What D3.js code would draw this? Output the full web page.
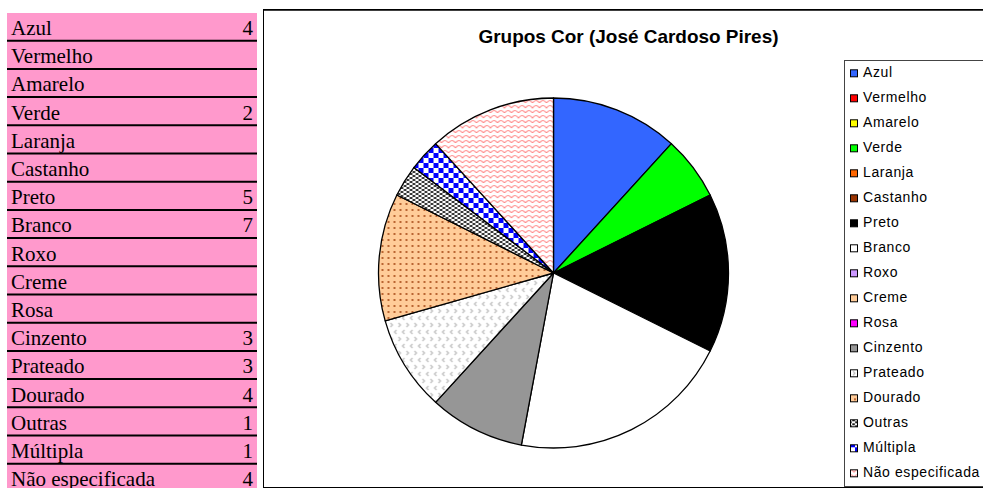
<!DOCTYPE html>
<html><head><meta charset="utf-8">
<script src="https://cdn.jsdelivr.net/npm/d3@7"></script>
<style>html,body{margin:0;padding:0;background:#fff;overflow:hidden} svg{display:block}</style>
</head><body>
<script>
const categories = ["Azul","Vermelho","Amarelo","Verde","Laranja","Castanho","Preto","Branco","Roxo","Creme","Rosa","Cinzento","Prateado","Dourado","Outras","Múltipla","Não especificada"];
const values = [4,null,null,2,null,null,5,7,null,null,null,3,3,4,1,1,4];
const fills = ["#3366ff","#ff0000","#ffff00","#00ff00","#ff6600","#993300","#000000","#ffffff","#cc99ff","#ffcc99","#ff00ff","#969696","url(#pPrat)","url(#pDour)","url(#pOutr)","url(#pMult)","url(#pNao)"];
const title = "Grupos Cor (José Cardoso Pires)";

const W = 983, H = 488;
const svg = d3.select("body").append("svg").attr("width", W).attr("height", H);
const defs = svg.append("defs");

// patterns
const pPrat = defs.append("pattern").attr("id","pPrat").attr("patternUnits","userSpaceOnUse").attr("width",8).attr("height",14);
pPrat.append("rect").attr("width",8).attr("height",14).attr("fill","#fff");
pPrat.append("path").attr("d","M3,1 L1,3 L3,5 M5,8 L7,10 L5,12").attr("fill","none").attr("stroke","#bdbdbd").attr("stroke-width",1.2);

const pDour = defs.append("pattern").attr("id","pDour").attr("patternUnits","userSpaceOnUse").attr("width",6).attr("height",6);
pDour.append("rect").attr("width",6).attr("height",6).attr("fill","#ffcc99");
pDour.append("circle").attr("cx",3).attr("cy",3).attr("r",0.9).attr("fill","#993300");

const pOutr = defs.append("pattern").attr("id","pOutr").attr("patternUnits","userSpaceOnUse").attr("width",6).attr("height",4);
pOutr.append("rect").attr("width",6).attr("height",4).attr("fill","#fff");
pOutr.append("ellipse").attr("cx",1.5).attr("cy",1).attr("rx",1.7).attr("ry",0.9).attr("fill","#111");
pOutr.append("ellipse").attr("cx",4.5).attr("cy",3).attr("rx",1.7).attr("ry",0.9).attr("fill","#111");

const pMult = defs.append("pattern").attr("id","pMult").attr("patternUnits","userSpaceOnUse").attr("width",10).attr("height",10);
pMult.append("rect").attr("width",10).attr("height",10).attr("fill","#fff");
pMult.append("rect").attr("width",5).attr("height",5).attr("fill","#0000ff");
pMult.append("rect").attr("x",5).attr("y",5).attr("width",5).attr("height",5).attr("fill","#0000ff");

const pNao = defs.append("pattern").attr("id","pNao").attr("patternUnits","userSpaceOnUse").attr("width",14).attr("height",10);
pNao.append("rect").attr("width",14).attr("height",10).attr("fill","#fff");
pNao.append("path").attr("d","M0,5 Q3.5,0 7,5 Q10.5,0 14,5 M-7,10 Q-3.5,5 0,10 Q3.5,5 7,10 Q10.5,5 14,10 Q17.5,5 21,10 M-3.5,0 Q0,-5 3.5,0 M10.5,0 Q14,-5 17.5,0").attr("fill","none").attr("stroke","#ff8c8c").attr("stroke-width",1.2);

// table
const rowH = 28.2, tTop = 13, tX = 7, tW = 250;
svg.append("rect").attr("x",tX).attr("y",tTop).attr("width",tW).attr("height",H-tTop).attr("fill","#ff99cc");
const rows = svg.append("g").selectAll("g").data(categories).join("g")
  .attr("transform",(d,i)=>`translate(0,${tTop + i*rowH})`);
rows.append("line").attr("x1",tX).attr("x2",tX+tW).attr("y1",rowH-0.5).attr("y2",rowH-0.5).attr("stroke","#000").attr("stroke-width",2);
rows.append("text").attr("x",11).attr("y",22).attr("font-family","'Liberation Serif','Times New Roman',serif").attr("font-size",21).attr("fill","#000").text(d=>d);
rows.append("text").attr("x",253).attr("y",22).attr("text-anchor","end").attr("font-family","'Liberation Serif','Times New Roman',serif").attr("font-size",21).attr("fill","#000").text((d,i)=>values[i]==null?"":values[i]);

// chart frame
svg.append("rect").attr("x",263.5).attr("y",9.5).attr("width",740).attr("height",478).attr("fill","#fff").attr("stroke","#000").attr("stroke-width",1);
svg.append("line").attr("x1",263).attr("x2",W).attr("y1",10).attr("y2",10).attr("stroke","#000").attr("stroke-width",1.5);

svg.append("text").attr("x",628.5).attr("y",43).attr("text-anchor","middle")
  .attr("font-family","'Liberation Sans',Arial,sans-serif").attr("font-weight","bold").attr("font-size",18.5)
  .attr("textLength",300).attr("lengthAdjust","spacingAndGlyphs").text(title);

// pie
const data = categories.map((c,i)=>({c, v: values[i]||0, fill: fills[i]}));
const pie = d3.pie().sort(null).value(d=>d.v);
const arcs = pie(data).filter(a=>a.data.v>0);
const R = 175;
const arc = d3.arc().innerRadius(0).outerRadius(R);
const pg = svg.append("g").attr("transform","translate(553.5,273)");
pg.selectAll("path").data(arcs).join("path")
  .attr("d",arc).attr("fill",d=>d.data.fill)
  .attr("stroke","#000").attr("stroke-width",1.3).attr("stroke-linejoin","round");

// legend
svg.append("rect").attr("x",844.5).attr("y",60.5).attr("width",160).attr("height",426).attr("fill","#fff").attr("stroke","#444").attr("stroke-width",1);
const lg = svg.append("g").selectAll("g").data(data).join("g")
  .attr("transform",(d,i)=>`translate(0,${77.3 + i*25})`);
lg.append("rect").attr("x",850.5).attr("y",-7.5).attr("width",7).attr("height",7).attr("fill",d=>d.fill).attr("stroke","#000").attr("stroke-width",1);
lg.append("text").attr("x",863).attr("y",0).attr("font-family","'Liberation Sans',Arial,sans-serif").attr("font-size",14).attr("letter-spacing",0.6).attr("fill","#000").text(d=>d.c);
</script>
</body></html>
